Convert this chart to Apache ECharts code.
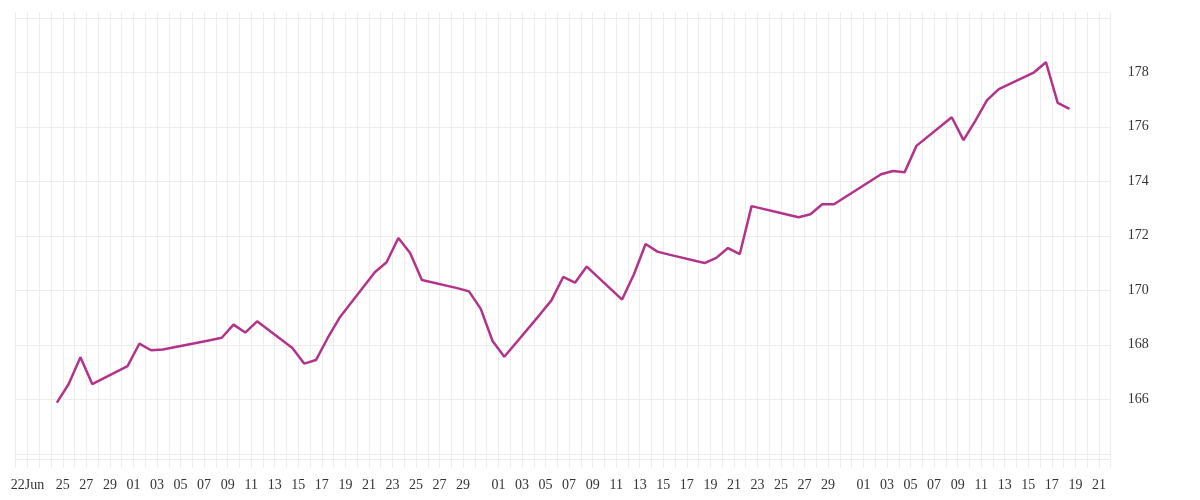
<!DOCTYPE html>
<html>
<head>
<meta charset="utf-8">
<script src="https://cdn.jsdelivr.net/npm/echarts@6/dist/echarts.min.js"></script>
<style>html,body{margin:0;padding:0;background:#fff}#c{width:1200px;height:500px}</style>
</head>
<body>
<div id="c"></div>
<script>
// ---- data (2014 trading days; plotted at midday) ----
const dates = [
 '2014-06-24','2014-06-25','2014-06-26','2014-06-27',
 '2014-06-30','2014-07-01','2014-07-02','2014-07-03',
 '2014-07-07','2014-07-08','2014-07-09','2014-07-10','2014-07-11',
 '2014-07-14','2014-07-15','2014-07-16','2014-07-17','2014-07-18',
 '2014-07-21','2014-07-22','2014-07-23','2014-07-24','2014-07-25',
 '2014-07-28','2014-07-29','2014-07-30','2014-07-31','2014-08-01',
 '2014-08-04','2014-08-05','2014-08-06','2014-08-07','2014-08-08',
 '2014-08-11','2014-08-12','2014-08-13','2014-08-14','2014-08-15',
 '2014-08-18','2014-08-19','2014-08-20','2014-08-21','2014-08-22',
 '2014-08-25','2014-08-26','2014-08-27','2014-08-28','2014-08-29',
 '2014-09-02','2014-09-03','2014-09-04','2014-09-05',
 '2014-09-08','2014-09-09','2014-09-10','2014-09-11','2014-09-12',
 '2014-09-15','2014-09-16','2014-09-17','2014-09-18'
];
const values = [
 165.88,166.56,167.54,166.56,
 167.22,168.04,167.80,167.83,
 168.17,168.26,168.74,168.45,168.86,
 167.88,167.31,167.44,168.25,168.99,
 170.66,171.03,171.92,171.37,170.38,
 170.08,169.96,169.32,168.14,167.56,
 169.10,169.63,170.49,170.28,170.87,
 169.66,170.58,171.70,171.42,171.31,
 171.00,171.19,171.55,171.33,173.09,
 172.78,172.68,172.79,173.16,173.16,
 174.26,174.38,174.33,175.30,
 176.35,175.51,176.22,176.98,177.38,
 178.00,178.37,176.88,176.66
];
const xTickDates = [
 '2014-06-22','2014-06-25','2014-06-27','2014-06-29',
 '2014-07-01','2014-07-03','2014-07-05','2014-07-07','2014-07-09','2014-07-11','2014-07-13','2014-07-15',
 '2014-07-17','2014-07-19','2014-07-21','2014-07-23','2014-07-25','2014-07-27','2014-07-29',
 '2014-08-01','2014-08-03','2014-08-05','2014-08-07','2014-08-09','2014-08-11','2014-08-13','2014-08-15',
 '2014-08-17','2014-08-19','2014-08-21','2014-08-23','2014-08-25','2014-08-27','2014-08-29',
 '2014-09-01','2014-09-03','2014-09-05','2014-09-07','2014-09-09','2014-09-11','2014-09-13','2014-09-15',
 '2014-09-17','2014-09-19','2014-09-21'
];
const xTickLabels = [
 '22Jun','25','27','29',
 '01','03','05','07','09','11','13','15','17','19','21','23','25','27','29',
 '01','03','05','07','09','11','13','15','17','19','21','23','25','27','29',
 '01','03','05','07','09','11','13','15','17','19','21'
];
const yTickLabels = ['166','168','170','172','174','176','178'];
const xStart = '2014-06-21', xEnd = '2014-09-22';
const yMin = 164, yMax = 180, yStep = 2;

// ---- helpers ----
const DAY = 86400000;
function ts(s){ const p = s.split('-').map(Number); return Date.UTC(p[0], p[1]-1, p[2]); }
function ds(v){ const d = new Date(v); const m = d.getUTCMonth()+1, dd = d.getUTCDate();
  return d.getUTCFullYear() + '-' + (m<10?'0':'') + m + '-' + (dd<10?'0':'') + dd; }
const seriesData = dates.map((d,i) => [ts(d) + DAY/2, values[i]]);

const grid = '#ededed';
const font = '"Liberation Serif", "DejaVu Serif", serif';
const chart = echarts.init(document.getElementById('c'), null, {renderer:'canvas'});
chart.setOption({
  backgroundColor: '#ffffff',
  animation: false,
  grid: [
    {left: 15.7, right: 89.3, top: 12, height: 456, containLabel: false},
    {left: 15.7, right: 89.3, top: 17.8, height: 436, containLabel: false}
  ],
  xAxis: [
    {type:'value', gridIndex:0, min: ts(xStart), max: ts(xEnd), interval: DAY,
     offset: -9,
     axisLine:{show:true, lineStyle:{color:grid, width:1}},
     axisTick:{show:false},
     splitLine:{show:true, lineStyle:{color:grid, width:1}},
     axisLabel:{show:true, margin:19, color:'#333', fontFamily:font, fontSize:14,
       showMinLabel:true, showMaxLabel:true,
       formatter: function(v){ const i = xTickDates.indexOf(ds(v)); return i>=0 ? xTickLabels[i] : ''; }}
    },
    {type:'value', gridIndex:1, min: ts(xStart), max: ts(xEnd), interval: DAY,
     axisLine:{show:false}, axisTick:{show:false}, splitLine:{show:false}, axisLabel:{show:false}}
  ],
  yAxis: [
    {type:'value', gridIndex:0, min:0, max:1, show:false, splitLine:{show:false}},
    {type:'value', gridIndex:1, position:'right', min:yMin, max:yMax, interval:yStep,
     axisLine:{show:false}, axisTick:{show:false},
     splitLine:{show:true, lineStyle:{color:grid, width:1}},
     axisLabel:{margin:17, color:'#333', fontFamily:font, fontSize:14, padding:[5,0,0,0],
       formatter: function(v){ const s = String(v); return yTickLabels.indexOf(s)>=0 ? s : ''; }}
    }
  ],
  series: [
    {type:'line', xAxisIndex:0, yAxisIndex:0, data:[], silent:true},
    {type:'line', xAxisIndex:1, yAxisIndex:1, data: seriesData,
     showSymbol:false, symbol:'none', smooth:false,
     lineStyle:{color:'#b3338b', width:2.5}, itemStyle:{color:'#b3338b'}}
  ]
});
</script>
</body>
</html>
